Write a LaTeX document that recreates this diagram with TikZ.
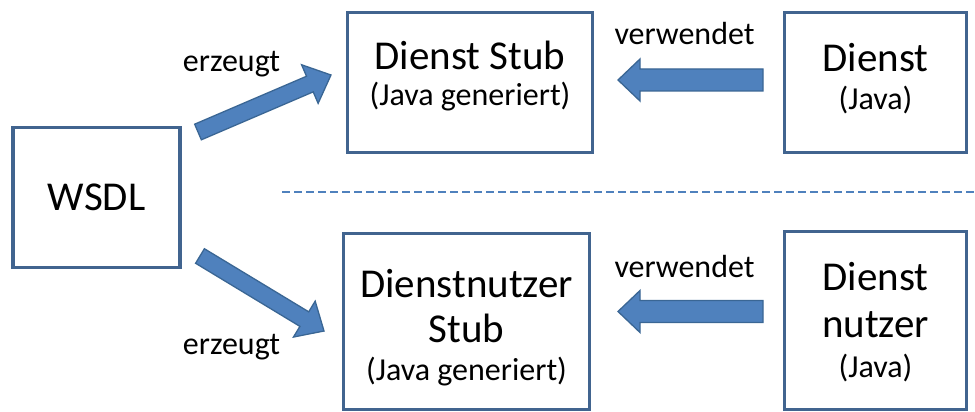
\documentclass[tikz,border=0pt]{standalone}
\usepackage{fontspec}
\setmainfont{Carlito}
\usetikzlibrary{calc}
\definecolor{boxblue}{HTML}{41648F}
\definecolor{arrfill}{HTML}{4F81BD}
\definecolor{arrline}{HTML}{3A6694}
\tikzset{
  box/.style={draw=boxblue, line width=3.2pt, fill=white, inner sep=0pt},
  big/.style={anchor=base, inner sep=0pt, font=\fontsize{41}{41}\selectfont},
  small/.style={anchor=base, inner sep=0pt, font=\fontsize{32}{32}\selectfont},
  blk/.style={fill=arrfill, draw=arrline, line width=1.3pt, line join=miter},
}
% block arrow from #1 (tail) to #2 (tip); #3 half shaft, #4 half head, #5 head length
\newcommand\blockarrow[5]{%
  \coordinate (#1-n) at ($(#2)!#5!(#1)$);
  \path[blk] ($(#1)!#3!90:(#2)$) -- ($(#1-n)!#3!-90:(#1)$) -- ($(#1-n)!#4!-90:(#1)$)
    -- (#2) -- ($(#1-n)!#4!90:(#1)$) -- ($(#1-n)!#3!90:(#1)$) -- ($(#1)!#3!-90:(#2)$) -- cycle;
}
\begin{document}
\begin{tikzpicture}[x=1pt,y=-1pt]
\useasboundingbox (0,0) rectangle (975,412);
% boxes
\node[box, minimum width=167pt, minimum height=140pt, font=\fontsize{41}{41}\selectfont] (wsdl) at (96.5,197.5) {WSDL};
\node[box, minimum width=245pt, minimum height=140pt] (stub) at (470,82.5) {};
\node[box, minimum width=182pt, minimum height=140pt] (dienst) at (875.5,82.5) {};
\node[box, minimum width=246pt, minimum height=176pt] (nstub) at (466.5,321.5) {};
\node[box, minimum width=182pt, minimum height=178pt] (nutzer) at (875.5,320.5) {};
% texts
\node[big] (t1) at (stub.center |- 0,70) {Dienst Stub};
\node[small] (t2) at (stub.center |- 0,105) {(Java generiert)};
\node[big] (t3) at (dienst.center |- 0,71) {Dienst};
\node[small] (t4) at (dienst.center |- 0,110) {(Java)};
\node[big] (t5) at (nstub.center |- 0,297) {Dienstnutzer};
\node[big] (t6) at (nstub.center |- 0,342) {Stub};
\node[small] (t7) at (nstub.center |- 0,380) {(Java generiert)};
\node[big] (t8) at (nutzer.center |- 0,290) {Dienst};
\node[big] (t9) at (nutzer.center |- 0,337) {nutzer};
\node[small] (t10) at (nutzer.center |- 0,377) {(Java)};
% labels
\node[small] (l1) at (231.5,72) {erzeugt};
\node[small] (l2) at (231.5,354) {erzeugt};
\node[small] (l3) at (684.5,45) {verwendet};
\node[small] (l4) at (684.5,277) {verwendet};
% dashed separator
\coordinate (d1) at (282,192);
\coordinate (d2) at (975,192);
\draw[arrfill, line width=2.2pt, dash pattern=on 8pt off 4pt] (d1) -- (d2);
% arrows
\coordinate (ea) at (198,132); \coordinate (eb) at (331,75);
\coordinate (fa) at (200,256); \coordinate (fb) at (324,331);
\coordinate (va) at (763,80); \coordinate (vb) at (618,80);
\coordinate (wa) at (763,311.5); \coordinate (wb) at (618,311.5);
\blockarrow{ea}{eb}{8.5pt}{21pt}{23pt}
\blockarrow{fa}{fb}{8.5pt}{21pt}{23pt}
\blockarrow{va}{vb}{11pt}{21pt}{22pt}
\blockarrow{wa}{wb}{11pt}{21pt}{22pt}
\end{tikzpicture}
\end{document}
